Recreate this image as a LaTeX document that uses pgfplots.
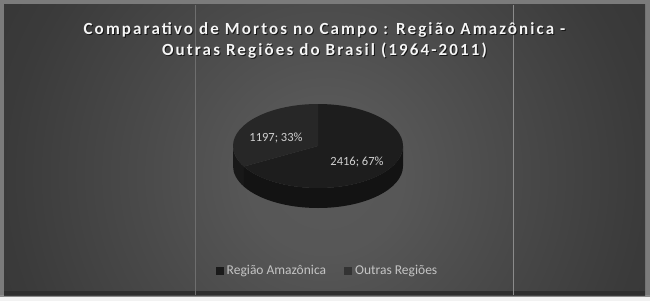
\documentclass[border=0pt]{standalone}
\usepackage{pgfplots}
\pgfplotsset{compat=1.18}
\usepackage{pgfplotstable}
\usepackage{fontspec}
\setmainfont{Carlito}
\newfontfamily\titlefont[LetterSpace=12.5]{Carlito}

\definecolor{frame}{HTML}{7B7B7B}
\definecolor{amz}{HTML}{1D1D1D}
\definecolor{outr}{HTML}{272727}
\definecolor{sideA}{HTML}{131313}
\definecolor{sideB}{HTML}{181818}
\definecolor{legA}{HTML}{1A1A1A}
\definecolor{legB}{HTML}{333333}
\definecolor{labtext}{HTML}{D0D0D0}
\definecolor{legtext}{HTML}{C4C4C4}
\definecolor{vline}{HTML}{6E6E6E}

\pgfdeclareradialshading{bgshade}{\pgfpoint{0bp}{0bp}}{%
  color(0bp)=(black!65);
  color(6bp)=(black!66);
  color(14bp)=(black!71);
  color(24bp)=(black!77);
  color(38bp)=(black!82);
  color(50bp)=(black!85);
  color(60bp)=(black!87)}

\pgfplotstableread{
name value
Amazonica 2416
Outras 1197
}\piedata

\begin{document}
\begin{tikzpicture}[x=1bp,y=1bp]
% frame and background
\fill[frame] (0,0) rectangle (650,301);
\fill[white!95!black] (0,0) rectangle (650,4);
\fill[black!45] (0,4) rectangle (650,6);
\begin{scope}
  \clip (4,6) rectangle (645,296);
  \shade[shading=bgshade] (325-330,126-330) rectangle (325+330,126+330);
  \fill[black!82] (4,6) rectangle (645,10);
\end{scope}
\draw[vline, line width=0.8bp] (195,6) -- (195,296);
\draw[vline!80!white, line width=0.8bp] (513,6) -- (513,296);

\pgfplotstablegetelem{0}{value}\of\piedata \let\va\pgfplotsretval
\pgfplotstablegetelem{1}{value}\of\piedata \let\vb\pgfplotsretval
\pgfmathsetmacro\fracB{\vb/(\va+\vb)}
\pgfmathsetmacro\angB{90+360*\fracB}
\pgfmathsetmacro\angBm{\angB-360}
\def\cx{318}\def\cy{155}

\begin{axis}[
  x=1bp, y=1bp,
  xmin=0, xmax=650, ymin=0, ymax=301,
  hide axis, clip=false,
  legend columns=2,
  legend image code/.code={\fill (0bp,-4bp) rectangle (8bp,4bp);},
  legend style={at={(axis cs:328,30)}, anchor=center, draw=none, fill=none,
    text=legtext, font=\fontsize{13.5bp}{15bp}\selectfont,
    nodes={inner sep=3bp},
    /tikz/every even column/.append style={column sep=15bp}},
]
% side of the pie
\fill[sideB] (axis cs:\cx,\cy) ++(180:85bp and 42bp)
  arc[start angle=180, end angle=\angB, x radius=85bp, y radius=42bp]
  -- ++(0,-20bp)
  arc[start angle=\angB, end angle=180, x radius=85bp, y radius=42bp] -- cycle;
\fill[sideA] (axis cs:\cx,\cy) ++(\angB:85bp and 42bp)
  arc[start angle=\angB, end angle=360, x radius=85bp, y radius=42bp]
  -- ++(0,-20bp)
  arc[start angle=360, end angle=\angB, x radius=85bp, y radius=42bp] -- cycle;
% top faces
\fill[amz] (axis cs:\cx,\cy) -- ++(90:85bp and 42bp)
  arc[start angle=90, end angle=\angBm, x radius=85bp, y radius=42bp] -- cycle;
\fill[outr] (axis cs:\cx,\cy) -- ++(90:85bp and 42bp)
  arc[start angle=90, end angle=\angB, x radius=85bp, y radius=42bp] -- cycle;
% data labels
\node[anchor=base, text=labtext, font=\fontsize{12.5bp}{14bp}\selectfont, inner sep=0pt]
  at (axis cs:357,136) {2416; 67\%};
\node[anchor=base, text=labtext, font=\fontsize{12.5bp}{14bp}\selectfont, inner sep=0pt]
  at (axis cs:276,160) {1197; 33\%};
% title with shadow
\node[anchor=base, text=black, opacity=0.7, font=\titlefont\fontsize{17bp}{20bp}\selectfont\bfseries, inner sep=0pt]
  at (axis cs:325.5,266) {Comparativo de Mortos no Campo : Região Amazônica -};
\node[anchor=base, text=black, opacity=0.7, font=\titlefont\fontsize{17bp}{20bp}\selectfont\bfseries, inner sep=0pt]
  at (axis cs:325.5,245) {Outras Regiões do Brasil (1964-2011)};
\node[anchor=base, text=white!96!black, font=\titlefont\fontsize{17bp}{20bp}\selectfont\bfseries, inner sep=0pt]
  at (axis cs:324.5,267) {Comparativo de Mortos no Campo : Região Amazônica -};
\node[anchor=base, text=white!96!black, font=\titlefont\fontsize{17bp}{20bp}\selectfont\bfseries, inner sep=0pt]
  at (axis cs:324.5,246) {Outras Regiões do Brasil (1964-2011)};
\addlegendimage{fill=legA, draw=none}
\addlegendentry{Região Amazônica}
\addlegendimage{fill=legB, draw=none}
\addlegendentry{Outras Regiões}
\end{axis}
\end{tikzpicture}
\end{document}
